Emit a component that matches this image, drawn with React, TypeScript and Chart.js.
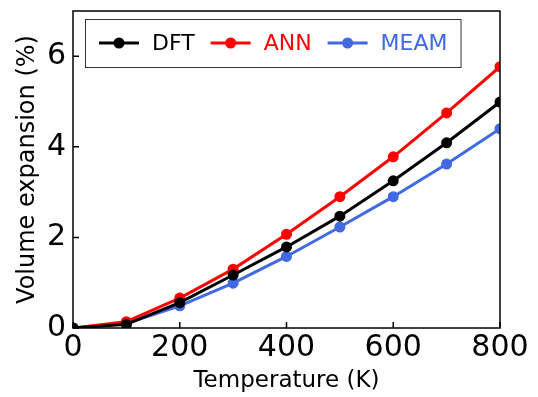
import React, { useEffect, useRef } from "react";
import { Chart, registerables } from "chart.js";

Chart.register(...registerables);

const temperatures = [0, 100, 200, 300, 400, 500, 600, 700, 800];
const dftValues = [0, 0.08, 0.56, 1.17, 1.79, 2.47, 3.25, 4.09, 4.99];
const annValues = [0, 0.14, 0.66, 1.3, 2.07, 2.9, 3.78, 4.75, 5.77];
const meamValues = [0, 0.1, 0.49, 0.99, 1.58, 2.23, 2.9, 3.62, 4.4];
const seriesNames = ["DFT", "ANN", "MEAM"];
const seriesColors = ["#000000", "#ff0000", "#4169e1"];
const xTickStep = 200;
const yTickStep = 2;
const xRange = [0, 800];
const yRange = [0, 7];
const xTitle = "Temperature (K)";
const yTitle = "Volume expansion (%)";

const FONT = "'DejaVu Sans', sans-serif";

const framePlugin = {
  id: "frameAndLegend",
  afterDatasetsDraw(chart: any) {
    const { ctx, chartArea, scales } = chart;
    const { left, right, top, bottom } = chartArea;
    const x = scales.x;
    const y = scales.y;
    ctx.save();
    ctx.strokeStyle = "#000";
    ctx.lineWidth = 1.5;
    ctx.beginPath();
    x.ticks.forEach((t: any) => {
      const px = x.getPixelForValue(t.value);
      ctx.moveTo(px, bottom);
      ctx.lineTo(px, bottom - 6);
    });
    y.ticks.forEach((t: any) => {
      const py = y.getPixelForValue(t.value);
      ctx.moveTo(left, py);
      ctx.lineTo(left + 6, py);
    });
    ctx.stroke();
    ctx.strokeRect(left, top, right - left, bottom - top);

    // legend
    const bx = left + 12;
    const by = top + 8;
    const bh = 48;
    ctx.font = `22px ${FONT}`;
    const items = chart.data.datasets.map((d: any) => ({
      label: d.label,
      color: d.borderColor,
      w: ctx.measureText(d.label).width,
    }));
    const padL = 14;
    const lineLen = 40;
    const gapText = 13;
    const gapItem = 16;
    const padR = 13;
    let total = padL;
    items.forEach((it: any, i: number) => {
      total += lineLen + gapText + it.w + (i < items.length - 1 ? gapItem : padR);
    });
    ctx.fillStyle = "#fff";
    ctx.fillRect(bx, by, total, bh);
    ctx.strokeStyle = "#333";
    ctx.lineWidth = 1;
    ctx.strokeRect(bx + 0.5, by + 0.5, total, bh);
    let cx = bx + padL;
    const cy = by + bh / 2;
    ctx.textBaseline = "middle";
    ctx.textAlign = "left";
    items.forEach((it: any) => {
      ctx.strokeStyle = it.color;
      ctx.lineWidth = 3;
      ctx.beginPath();
      ctx.moveTo(cx, cy);
      ctx.lineTo(cx + lineLen, cy);
      ctx.stroke();
      ctx.fillStyle = it.color;
      ctx.beginPath();
      ctx.arc(cx + lineLen / 2, cy, 5.5, 0, Math.PI * 2);
      ctx.fill();
      cx += lineLen + gapText;
      ctx.fillText(it.label, cx, cy + 1);
      cx += it.w + gapItem;
    });
    ctx.restore();
  },
};

export default function App() {
  const canvasRef = useRef<HTMLCanvasElement | null>(null);

  useEffect(() => {
    const canvas = canvasRef.current;
    if (!canvas) return;
    const seriesValues = [dftValues, annValues, meamValues];
    const chart = new Chart(canvas, {
      type: "line",
      data: {
        datasets: seriesNames.map((name, i) => ({
          label: name,
          data: temperatures.map((t, j) => ({ x: t, y: seriesValues[i][j] })),
          borderColor: seriesColors[i],
          backgroundColor: seriesColors[i],
          borderWidth: 3,
          pointRadius: 5.5,
          pointBorderWidth: 0,
          pointBackgroundColor: seriesColors[i],
          tension: 0,
          clip: 0,
        })),
      },
      options: {
        responsive: false,
        animation: false,
        devicePixelRatio: 1,
        layout: { padding: { top: 11, right: 38, left: 0, bottom: 0 } },
        plugins: {
          legend: { display: false },
          tooltip: { enabled: false },
        },
        scales: {
          x: {
            type: "linear",
            min: xRange[0],
            max: xRange[1],
            afterFit: (s: any) => {
              s.height = 69;
              s.paddingLeft = 0;
              s.paddingRight = 0;
            },
            ticks: {
              stepSize: xTickStep,
              includeBounds: false,
              color: "#000",
              font: { family: FONT, size: 30 },
              padding: 2,
              maxRotation: 0,
            },
            grid: { display: false, drawTicks: false },
            border: { display: false },
            title: {
              display: true,
              text: xTitle,
              color: "#000",
              font: { family: FONT, size: 23 },
              padding: { top: 0, bottom: 2 },
            },
          },
          y: {
            type: "linear",
            min: yRange[0],
            max: yRange[1],
            afterFit: (s: any) => {
              s.width = 73;
              s.paddingTop = 0;
              s.paddingBottom = 0;
            },
            ticks: {
              stepSize: yTickStep,
              includeBounds: false,
              color: "#000",
              font: { family: FONT, size: 30 },
              padding: 7,
            },
            grid: { display: false, drawTicks: false },
            border: { display: false },
            title: {
              display: true,
              text: yTitle,
              color: "#000",
              font: { family: FONT, size: 24 },
              padding: { top: 13, bottom: 0 },
            },
          },
        },
      },
      plugins: [framePlugin],
    });
    return () => chart.destroy();
  }, []);

  return (
    <div style={{ position: "absolute", left: 0, top: 0, width: 538, height: 397, background: "#fff" }}>
      <canvas ref={canvasRef} width={538} height={397} />
    </div>
  );
}
